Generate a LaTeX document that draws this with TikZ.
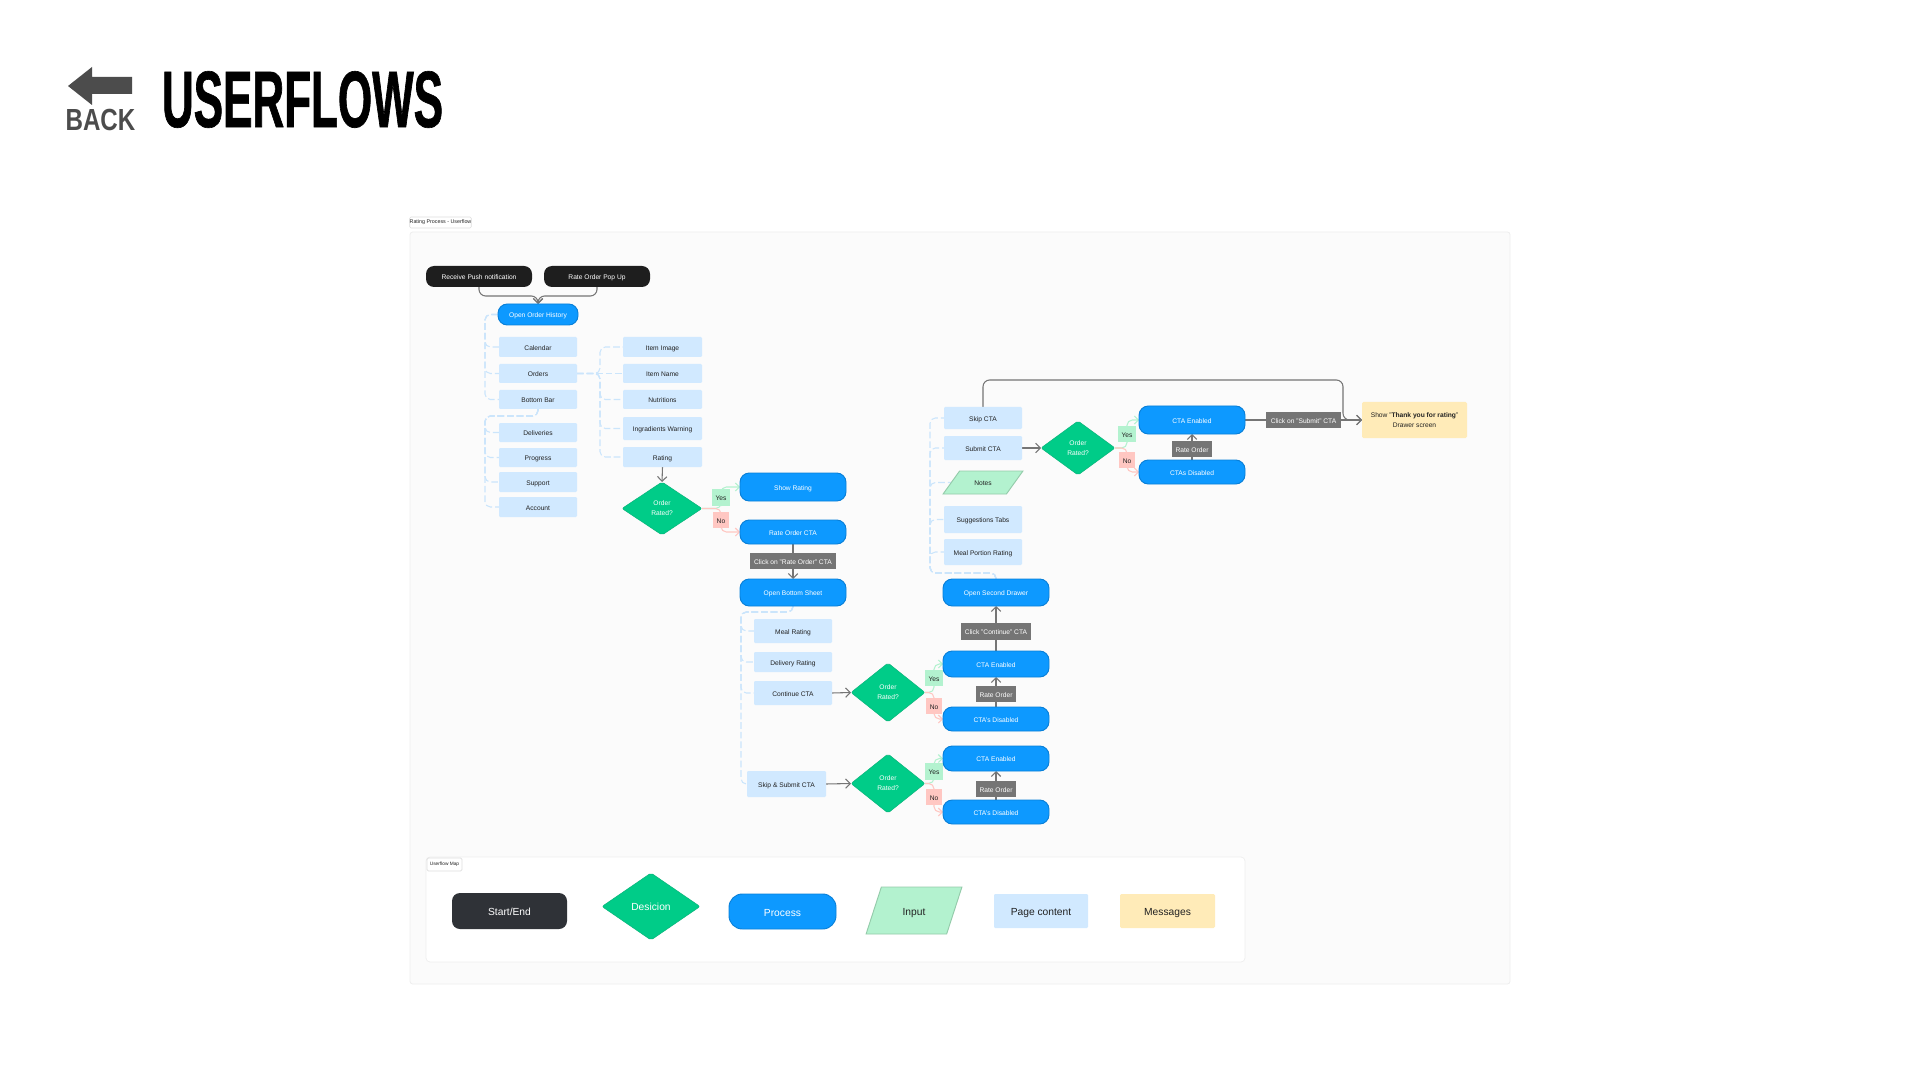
\documentclass[tikz,border=0pt]{standalone}
\usepackage{fontspec}
\setmainfont{Liberation Sans}
\newfontfamily\headf[FakeStretch=0.55,FakeBold=0.8]{Liberation Sans Bold}
\newfontfamily\backf[FakeStretch=0.79]{Liberation Sans Bold}
\usetikzlibrary{shapes.geometric,arrows.meta}
\definecolor{framebg}{HTML}{FBFBFB}
\definecolor{frameln}{HTML}{EEEEEE}
\definecolor{tagln}{HTML}{DDDDDD}
\definecolor{blue1}{HTML}{0D99FF}
\definecolor{blue2}{HTML}{0A80D8}
\definecolor{green1}{HTML}{00CC88}
\definecolor{green2}{HTML}{0BB57C}
\definecolor{pagefill}{HTML}{D1E9FF}
\definecolor{msg}{HTML}{FFEBB8}
\definecolor{yesc}{HTML}{B3F2CF}
\definecolor{noc}{HTML}{FFC7C2}
\definecolor{flowc}{HTML}{757575}
\definecolor{dashc}{HTML}{CBE5FB}
\definecolor{darkn}{HTML}{1E1E1E}
\definecolor{inkc}{HTML}{222222}
\definecolor{inputln}{HTML}{94CBAA}
\definecolor{legdark}{HTML}{2F3237}
\pgfdeclarelayer{bottomlayer}
\pgfdeclarelayer{conn}
\pgfsetlayers{bottomlayer,conn,main}
\newcommand\NB[7]{%
  \pgfmathsetmacro\nbcx{(#3+#4)/2}%
  \pgfmathsetmacro\nbcy{(#5+#6)/2}%
  \pgfmathsetmacro\nbw{(#4-#3)*0.75}%
  \pgfmathsetmacro\nbh{(#6-#5)*0.75}%
  \node[#1,minimum width=\nbw pt,minimum height=\nbh pt] (#2) at (\nbcx,\nbcy) {#7};}
\tikzset{
  basen/.style={inner sep=0pt,outer sep=0pt,align=center,font=\fontsize{5}{7.4}\selectfont,text=inkc,text height=5.5pt,text depth=.4pt},
  freetext/.style={text height=,text depth=},
  startn/.style={basen,fill=darkn,rounded corners=6pt,text=white},
  process/.style={basen,fill=blue1,draw=blue2,line width=.7pt,rounded corners=7pt,text=white},
  pagec/.style={basen,fill=pagefill,rounded corners=.8pt},
  decision/.style={basen,freetext,shape=diamond,fill=green1,draw=green2,line width=.4pt,rounded corners=1.5pt,text=white,shape aspect=1.35},
  yeslab/.style={basen,fill=yesc},
  nolab/.style={basen,fill=noc},
  action/.style={basen,fill=flowc,text=white},
  inputn/.style={basen,shape=trapezium,trapezium stretches=true,trapezium left angle=52,trapezium right angle=128,fill=yesc,draw=inputln,line width=.7pt},
  msgbox/.style={basen,fill=msg,rounded corners=1pt},
  tagbox/.style={basen,fill=white,draw=tagln,line width=.5pt,rounded corners=1pt},
  flow/.style={draw=flowc,line width=.8pt,rounded corners=5pt,-{Straight Barb[length=3.5pt,width=7pt]}},
  dashl/.style={draw=dashc,line width=.8pt,rounded corners=4pt,dash pattern=on 5pt off 2.2pt},
  yesl/.style={draw=yesc,line width=.8pt,rounded corners=4pt,-{Straight Barb[length=3pt,width=6pt]}},
  nol/.style={draw=noc,line width=.8pt,rounded corners=4pt,-{Straight Barb[length=3pt,width=6pt]}},
  legendt/.style={font=\fontsize{7.7}{9}\selectfont,text height=8pt,text depth=1pt},
}
\begin{document}
\begin{tikzpicture}[x=0.75pt,y=-0.75pt]
\useasboundingbox (0,0) rectangle (1920,1080);
\begin{pgfonlayer}{bottomlayer}
\fill[white] (0,0) rectangle (1920,1080);
\NB{basen,fill=framebg,draw=frameln,line width=.6pt,rounded corners=2pt}{frame}{410}{1510}{232}{984}{}
\NB{basen,fill=white,draw=frameln,line width=.5pt,rounded corners=3pt}{legend}{426}{1245}{857}{962}{}
\end{pgfonlayer}
% heading
\fill[fill=black!70] (68,86) -- (92,67) -- (92,77) -- (132,77) -- (132,94) -- (92,94) -- (92,105) -- cycle;
\node[inner sep=0pt,text=black!70,font=\backf\fontsize{22.9}{24}\selectfont] (backt) at (100.5,120) {BACK};
\node[inner sep=0pt,text=black,font=\headf\fontsize{60}{62}\selectfont] (title) at (302.5,99.5) {USERFLOWS};
% tags
\NB{tagbox,freetext,font=\fontsize{4}{5}\selectfont}{tag1}{410}{471}{217}{228}{Rating Process - Userflow}
\NB{tagbox,freetext,font=\fontsize{3.6}{5}\selectfont}{tag2}{427}{462}{858}{871}{Userflow Map}
% column 1
\NB{startn}{recv}{426}{532}{266}{287}{Receive Push notification}
\NB{startn}{popup}{544}{650}{266}{287}{Rate Order Pop Up}
\NB{process}{ooh}{498}{578}{304}{325}{Open Order History}
\NB{pagec}{cal}{499}{577}{337}{357}{Calendar}
\NB{pagec}{ord}{499}{577}{364}{383}{Orders}
\NB{pagec}{bar}{499}{577}{390}{409}{Bottom Bar}
\NB{pagec}{del}{499}{577}{423}{442}{Deliveries}
\NB{pagec}{prog}{499}{577}{448}{467}{Progress}
\NB{pagec}{supp}{499}{577}{472}{492}{Support}
\NB{pagec}{acc}{499}{577}{497}{517}{Account}
% column 2
\NB{pagec}{img}{623}{702}{337}{357}{Item Image}
\NB{pagec}{nam}{623}{702}{364}{383}{Item Name}
\NB{pagec}{nut}{623}{702}{390}{409}{Nutritions}
\NB{pagec}{ing}{623}{702}{417}{440}{Ingradients Warning}
\NB{pagec}{rat}{623}{702}{447}{467}{Rating}
\NB{decision}{d1}{622}{702}{482}{535}{Order\\Rated?}
\NB{yeslab}{y1}{712}{730}{489}{506}{Yes}
\NB{nolab}{n1}{713}{729}{512}{528}{No}
% column 3
\NB{process}{show}{740}{846}{473}{501}{Show Rating}
\NB{process}{rcta}{740}{846}{520}{544}{Rate Order CTA}
\NB{action}{crat}{750}{836}{553}{569}{Click on "Rate Order" CTA}
\NB{process}{obs}{740}{846}{579}{606}{Open Bottom Sheet}
\NB{pagec}{meal}{754}{832}{619}{643}{Meal Rating}
\NB{pagec}{deli}{754}{832}{652}{672}{Delivery Rating}
\NB{pagec}{cont}{754}{832}{681}{705}{Continue CTA}
\NB{pagec}{skips}{747}{826}{771}{797}{Skip \& Submit CTA}
\NB{decision}{d2}{851}{925}{663}{722}{Order\\Rated?}
\NB{decision}{d3}{851}{925}{754}{813}{Order\\Rated?}
\NB{yeslab}{y2}{925}{943}{670}{686}{Yes}
\NB{nolab}{n2}{926}{942}{698}{714}{No}
\NB{yeslab}{y3}{925}{943}{763}{780}{Yes}
\NB{nolab}{n3}{926}{942}{789}{805}{No}
% column 4
\NB{process}{e2}{943}{1049}{651}{677}{CTA Enabled}
\NB{action}{r2}{976}{1016}{686}{702}{Rate Order}
\NB{process}{x2}{943}{1049}{707}{731}{CTA's Disabled}
\NB{process}{osd}{943}{1049}{579}{606}{Open Second Drawer}
\NB{action}{ccont}{961}{1031}{623}{640}{Click "Continue" CTA}
\NB{process}{e3}{943}{1049}{746}{771}{CTA Enabled}
\NB{action}{r3}{976}{1016}{781}{797}{Rate Order}
\NB{process}{x3}{943}{1049}{800}{824}{CTA's Disabled}
% upper right
\NB{pagec}{skip}{944}{1022}{407}{429}{Skip CTA}
\NB{pagec}{subm}{944}{1022}{436}{460}{Submit CTA}
\NB{inputn}{notes}{943}{1023}{471}{494}{Notes}
\NB{pagec}{sugg}{944}{1022}{506}{533}{Suggestions Tabs}
\NB{pagec}{port}{944}{1022}{539}{565}{Meal Portion Rating}
\NB{decision}{d4}{1041}{1115}{421}{475}{Order\\Rated?}
\NB{yeslab}{y4}{1118}{1136}{426}{442}{Yes}
\NB{nolab}{n4}{1119}{1135}{452}{468}{No}
\NB{process}{e4}{1139}{1245}{406}{434}{CTA Enabled}
\NB{action}{r4}{1172}{1212}{441}{457}{Rate Order}
\NB{process}{x4}{1139}{1245}{460}{484}{CTAs Disabled}
\NB{action}{csub}{1266}{1341}{412}{428}{Click on "Submit" CTA}
\NB{msgbox,freetext}{thanks}{1362}{1467}{402}{438}{Show "\textbf{Thank you for rating}"\\Drawer screen}
% legend
\NB{startn,fill=legdark,legendt}{lstart}{452}{567}{893}{929}{Start/End}
\NB{decision,legendt,freetext,shape aspect=1.45}{ldec}{602}{700}{873}{940}{Desicion}
\NB{process,legendt,rounded corners=10pt}{lproc}{729}{836}{894}{929}{Process}
\NB{inputn,legendt,trapezium left angle=66,trapezium right angle=114}{linp}{866}{962}{887}{934}{Input}
\NB{pagec,legendt}{lpage}{994}{1088}{894}{928}{Page content}
\NB{msgbox,legendt}{lmsg}{1120}{1215}{894}{928}{Messages}
\begin{pgfonlayer}{conn}
% flows
\draw[flow] (recv.south) -- ++(0,9) -| (ooh.north);
\draw[flow] (popup.south) -- ++(0,9) -| (ooh.north);
\draw[flow] (rat.south) -- (d1.north);
\draw[flow] (rcta.south) -- (obs.north);
\draw[flow] (cont.east) -- (d2.west);
\draw[flow] (skips.east) -- (d3.west);
\draw[flow] (subm.east) -- (d4.west);
\draw[flow] (x2.north) -- (e2.south);
\draw[flow] (x3.north) -- (e3.south);
\draw[flow] (x4.north) -- (e4.south);
\draw[flow] (e2.north) -- (osd.south);
\draw[flow] (e4.east) -- (thanks.west);
\draw[flow] (skip.north) -- ++(0,-27) -- ++(360,0) |- (thanks.west);
% yes / no
\draw[yesl] (d1.east) -| (y1) |- (show.west);
\draw[nol] (d1.east) -| (n1) |- (rcta.west);
\draw[yesl] (d2.east) -| (y2) |- (e2.west);
\draw[nol] (d2.east) -| (n2) |- (x2.west);
\draw[yesl] (d3.east) -| (y3) |- (e3.west);
\draw[nol] (d3.east) -| (n3) |- (x3.west);
\draw[yesl] (d4.east) -| (y4) |- (e4.west);
\draw[nol] (d4.east) -| (n4) |- (x4.west);
% dashed page-content links
\foreach \cc in {cal,ord,bar} \draw[dashl] (ooh.west) -- ++(-13,0) |- (\cc.west);
\foreach \cc in {del,prog,supp,acc} \draw[dashl] (bar.south) -- ++(0,7) -- ++(-53,0) |- (\cc.west);
\draw[dashl] (ord.east) -- (nam.west);
\foreach \cc in {img,nut,ing,rat} \draw[dashl] (ord.east) -- ++(23,0) |- (\cc.west);
\foreach \cc in {meal,deli,cont,skips} \draw[dashl] (obs.south) -- ++(0,6) -- ++(-52,0) |- (\cc.west);
\foreach \cc in {skip,subm,notes,sugg,port} \draw[dashl] (osd.north) -- ++(0,-6) -- ++(-66,0) |- (\cc.west);
\end{pgfonlayer}
\end{tikzpicture}
\end{document}
